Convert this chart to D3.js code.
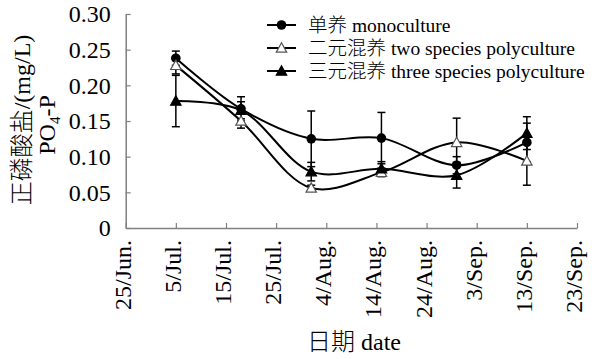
<!DOCTYPE html>
<html>
<head>
<meta charset="utf-8">
<script src="https://cdn.jsdelivr.net/npm/d3@7"></script>
<style>
  body { margin: 0; background: #fff; }
  text { font-family: "Liberation Serif", "Noto Sans CJK SC", serif; fill: #000; }
  .cjk { font-family: "Noto Sans CJK SC", sans-serif; font-weight: 300; }
</style>
</head>
<body>
<div id="chart"></div>
<script>
// sampling days counted from 25 Jun
const sampleDays = [10, 23, 37, 51, 66, 80]
const tickDays = [0, 10, 20, 30, 40, 50, 60, 70, 80, 90]
const tickLabels = ["25/Jun.", "5/Jul.", "15/Jul.", "25/Jul.", "4/Aug.", "14/Aug.", "24/Aug.", "3/Sep.", "13/Sep.", "23/Sep."]
const yTicks = [0, 0.05, 0.10, 0.15, 0.20, 0.25, 0.30]

const monoValues = [0.238, 0.167, 0.125, 0.126, 0.088, 0.120]
const monoErrors = [0.010, 0.017, 0.039, 0.036, 0.012, 0.027]
const twoValues = [0.228, 0.150, 0.056, 0.078, 0.120, 0.094]
const twoErrors = [0.012, 0.010, 0.004, 0.006, 0.034, 0.034]
const threeValues = [0.178, 0.165, 0.079, 0.083, 0.074, 0.133]
const threeErrors = [0.036, 0.012, 0.013, 0.010, 0.018, 0.023]

const seriesCn = ["单养", "二元混养", "三元混养"]
const seriesEn = ["monoculture", "two species polyculture", "three species polyculture"]

const series = [
  { cn: seriesCn[0], en: seriesEn[0], values: monoValues, errors: monoErrors, shape: "circle" },
  { cn: seriesCn[1], en: seriesEn[1], values: twoValues, errors: twoErrors, shape: "openTri" },
  { cn: seriesCn[2], en: seriesEn[2], values: threeValues, errors: threeErrors, shape: "tri" },
]

const width = 592
const height = 359
const margin = { top: 14, right: 15, bottom: 131, left: 125.7 }

const svg = d3.select("#chart")
  .append("svg")
  .attr("width", width)
  .attr("height", height)

const x = d3.scaleLinear()
  .domain([0, 90])
  .range([margin.left, width - margin.right])

const y = d3.scaleLinear()
  .domain([0, 0.3])
  .range([height - margin.bottom, margin.top])

const axisColor = "#808080"

// x axis
const xAxis = svg.append("g")
  .attr("transform", `translate(0, ${y(0)})`)
  .call(d3.axisBottom(x).tickValues(tickDays).tickSize(-5).tickSizeOuter(0).tickFormat(""))
xAxis.select(".domain").attr("stroke", axisColor).attr("stroke-width", 1.5)
xAxis.selectAll(".tick line").attr("stroke", axisColor).attr("stroke-width", 1.2)

svg.append("g")
  .selectAll("text")
  .data(tickDays)
  .join("text")
  .attr("transform", (d) => `translate(${x(d) + 5}, 240) rotate(-90)`)
  .attr("text-anchor", "end")
  .attr("font-size", 24)
  .text((d, i) => tickLabels[i])

// y axis
const yAxis = svg.append("g")
  .attr("transform", `translate(${x(0)}, 0)`)
  .call(d3.axisLeft(y).tickValues(yTicks).tickSize(-5).tickSizeOuter(0)
    .tickFormat((d) => (d === 0 ? "0" : d3.format(".2f")(d))))
yAxis.select(".domain").attr("stroke", axisColor).attr("stroke-width", 1.5)
yAxis.selectAll(".tick line").attr("stroke", axisColor).attr("stroke-width", 1.2)
yAxis.selectAll(".tick text")
  .attr("x", -15)
  .attr("font-size", 24)
  .attr("font-family", "Liberation Serif")
  .attr("fill", "#000")

// axis titles
const yTitle = svg.append("text")
  .attr("transform", "translate(30, 120) rotate(-90)")
  .attr("text-anchor", "middle")
  .attr("font-size", 24)
yTitle.append("tspan").attr("class", "cjk").text("正磷酸盐")
yTitle.append("tspan").text("/(mg/L)")

const poTitle = svg.append("text")
  .attr("transform", "translate(55, 125) rotate(-90)")
  .attr("text-anchor", "middle")
  .attr("font-size", 24)
poTitle.append("tspan").text("PO")
poTitle.append("tspan").attr("font-size", 15).attr("dy", 5).text("4")
poTitle.append("tspan").attr("dy", -5).text("-P")

const xTitle = svg.append("text")
  .attr("x", 354)
  .attr("y", 350)
  .attr("text-anchor", "middle")
  .attr("font-size", 24)
xTitle.append("tspan").attr("class", "cjk").text("日期")
xTitle.append("tspan").text(" date")

// markers
function drawMarker(g, shape, cx, cy) {
  if (shape === "circle") {
    g.append("circle").attr("cx", cx).attr("cy", cy).attr("r", 4.8).attr("fill", "#000")
  } else {
    const s = 5.2
    g.append("path")
      .attr("d", `M${cx},${cy - s} L${cx + s},${cy + s * 0.8} L${cx - s},${cy + s * 0.8} Z`)
      .attr("fill", shape === "tri" ? "#000" : "#fff")
      .attr("stroke", shape === "tri" ? "#000" : "#555")
      .attr("stroke-width", 1.2)
  }
}

const line = d3.line()
  .x((d) => x(d.day))
  .y((d) => y(d.value))
  .curve(d3.curveCatmullRom.alpha(0.5))

series.forEach((s) => {
  const pts = sampleDays.map((day, i) => ({ day, value: s.values[i], err: s.errors[i] }))
  const g = svg.append("g")

  // error bars
  pts.forEach((p) => {
    const px = x(p.day)
    const top = y(p.value + p.err)
    const bot = y(p.value - p.err)
    g.append("line").attr("x1", px).attr("x2", px).attr("y1", top).attr("y2", bot)
      .attr("stroke", "#000").attr("stroke-width", 1.5)
    ;[top, bot].forEach((yy) => {
      g.append("line").attr("x1", px - 4).attr("x2", px + 4).attr("y1", yy).attr("y2", yy)
        .attr("stroke", "#000").attr("stroke-width", 1.5)
    })
  })

  g.append("path")
    .datum(pts)
    .attr("fill", "none")
    .attr("stroke", "#000")
    .attr("stroke-width", 2)
    .attr("d", line)
})

series.forEach((s) => {
  const g = svg.append("g")
  sampleDays.forEach((day, i) => drawMarker(g, s.shape, x(day), y(s.values[i])))
})

// legend
const legend = svg.append("g")
series.forEach((s, i) => {
  const ly = 25 + i * 23
  legend.append("line").attr("x1", 267).attr("x2", 296).attr("y1", ly).attr("y2", ly)
    .attr("stroke", "#000").attr("stroke-width", 2)
  drawMarker(legend, s.shape, 281.5, ly)
  const t = legend.append("text")
    .attr("x", 308)
    .attr("y", ly)
    .attr("dy", "0.35em")
    .attr("font-size", 19.5)
  t.append("tspan").attr("class", "cjk").text(s.cn)
  t.append("tspan").text(" " + s.en)
})
</script>
</body>
</html>
